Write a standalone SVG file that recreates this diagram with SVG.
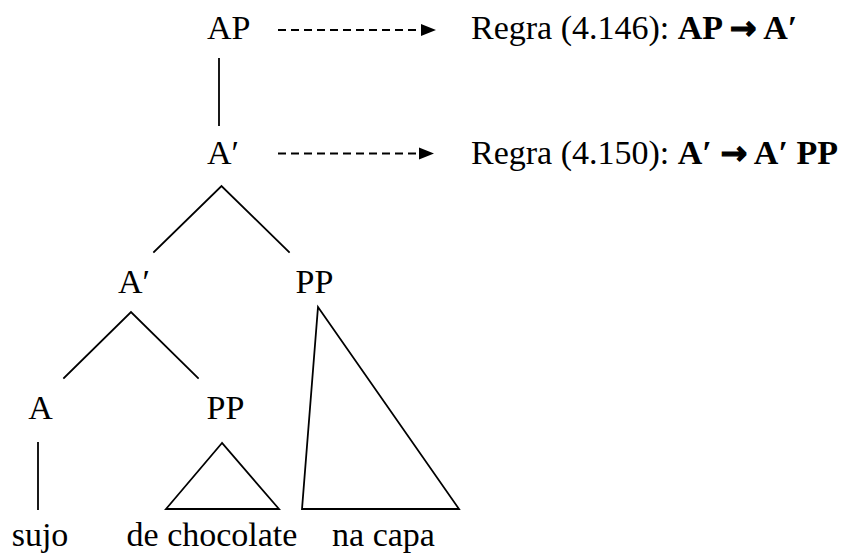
<svg xmlns="http://www.w3.org/2000/svg" width="847" height="554" viewBox="0 0 847 554">
<style>
text{font-family:"Liberation Serif","Times New Roman","DejaVu Serif",serif;font-size:34px;fill:#000}
.b{font-weight:bold}
.ar{font-family:"DejaVu Sans",sans-serif;font-weight:bold;font-size:32px;stroke:#000;stroke-width:1.2}
.e{stroke:#000;stroke-width:1.8;fill:none;stroke-linecap:square}
.d{stroke:#000;stroke-width:2;fill:none;stroke-dasharray:8 5}
.h{fill:#000}
</style>
<rect width="847" height="554" fill="#fff"/>
<g id="connectors">
<line class="e" x1="219" y1="59" x2="219" y2="125"/>
<polyline class="e" points="154,252 221.5,186 289,252"/>
<polyline class="e" points="64,378 131,312 198,378"/>
<line class="e" x1="38" y1="443" x2="38" y2="509"/>
<polygon class="e" points="222,443 166,509 279,509"/>
<polygon class="e" points="318,307 302,509 459,509"/>
<line class="d" x1="278" y1="30" x2="421" y2="30"/>
<polygon class="h" points="421,24 436,30 421,36"/>
<line class="d" x1="278" y1="153.5" x2="419" y2="153.5"/>
<polygon class="h" points="419,147.5 434,153.5 419,159.5"/>
</g>
<g id="n-AP"><text x="207" y="39">AP</text></g>
<g id="n-A1"><text x="207" y="164">A′</text></g>
<g id="n-A2"><text x="118" y="293">A′</text></g>
<g id="n-PP1"><text x="314.5" y="293" text-anchor="middle">PP</text></g>
<g id="n-A"><text x="40.5" y="419" text-anchor="middle">A</text></g>
<g id="n-PP2"><text x="225.5" y="419" text-anchor="middle">PP</text></g>
<g id="n-sujo"><text x="40" y="546" text-anchor="middle">sujo</text></g>
<g id="n-dechocolate"><text x="212" y="546" text-anchor="middle">de chocolate</text></g>
<g id="n-nacapa"><text x="383.5" y="546" text-anchor="middle">na capa</text></g>
<g id="rule1"><text x="471" y="39">Regra (4.146): <tspan class="b">AP <tspan class="ar">→</tspan> A′</tspan></text></g>
<g id="rule2"><text x="471" y="164">Regra (4.150): <tspan class="b">A′ <tspan class="ar">→</tspan> A′ PP</tspan></text></g>
</svg>
